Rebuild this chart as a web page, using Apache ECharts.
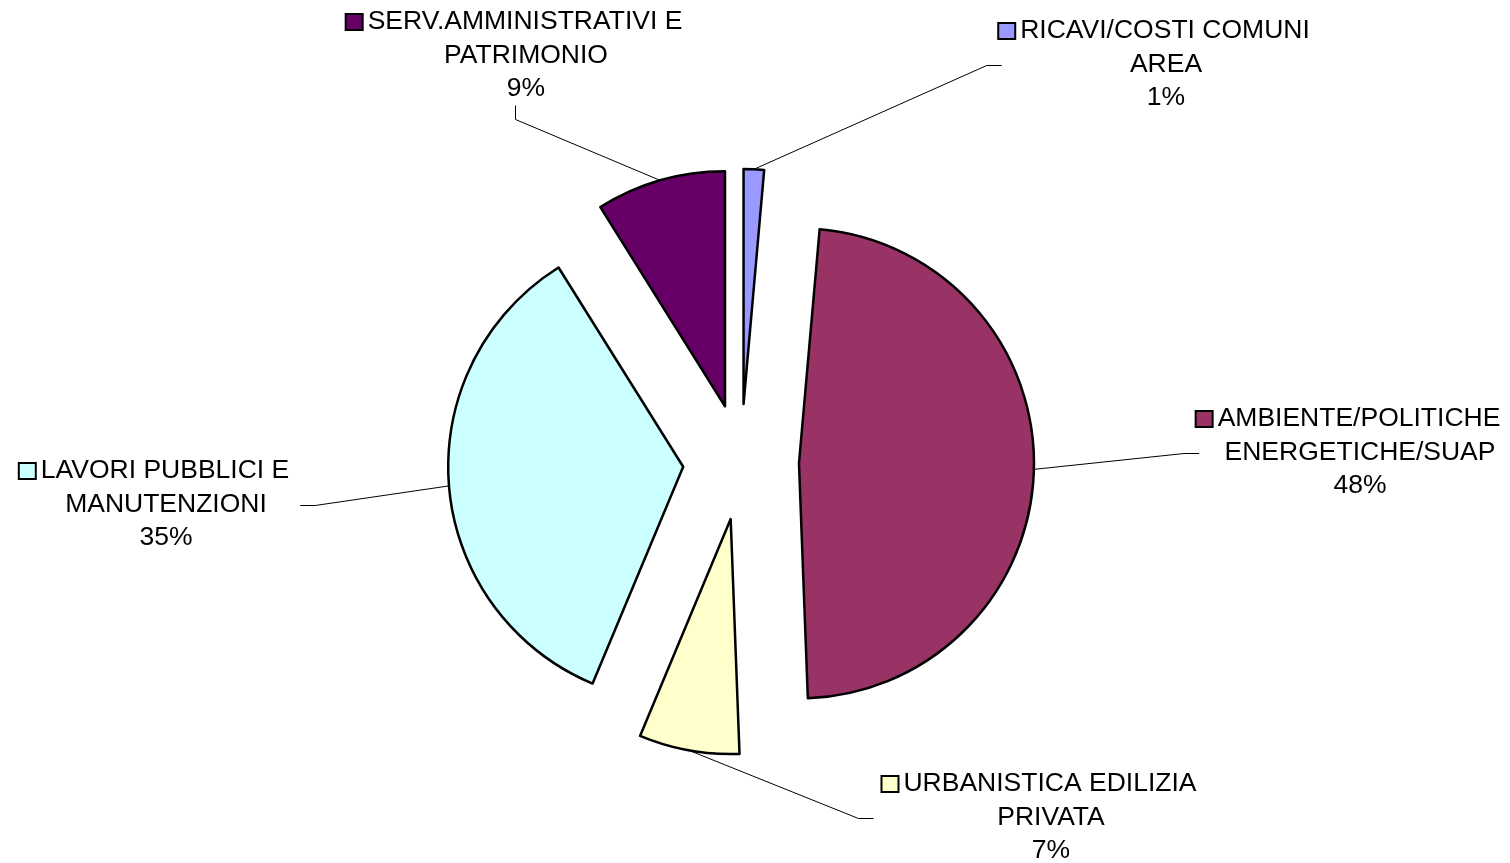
<!DOCTYPE html>
<html>
<head>
<meta charset="utf-8">
<script src="https://cdn.jsdelivr.net/npm/echarts@6/dist/echarts.min.js"></script>
<style>
html, body { margin: 0; padding: 0; background: #fff; }
#chart { width: 1510px; height: 863px; }
</style>
</head>
<body>
<div id="chart"></div>
<script>
var names = ['RICAVI/COSTI COMUNI\nAREA', 'AMBIENTE/POLITICHE\nENERGETICHE/SUAP', 'URBANISTICA EDILIZIA\nPRIVATA', 'LAVORI PUBBLICI E\nMANUTENZIONI', 'SERV.AMMINISTRATIVI E\nPATRIMONIO'];
var values = [1.4, 48.0, 6.9, 34.8, 8.9];
var colors = ['#9999FF', '#993366', '#FFFFCC', '#CCFFFF', '#660066'];

// where each label block sits and from which side the leader comes in
var labelSpots = [
	{ x: 1166, y: 64.5, side: 'left' },
	{ x: 1360, y: 452.5, side: 'left' },
	{ x: 1051, y: 817.5, side: 'left' },
	{ x: 166, y: 504.5, side: 'right' },
	{ x: 526, y: 55.5, side: 'bottom' }
];

var CENTER = [741, 462], R = 235, OFFSET = 58;
var KEY = 17, GAP = 6, PAD = KEY + GAP;

var rich = {
	t: { fontFamily: 'Liberation Sans', fontSize: 26.5, lineHeight: 33.5, color: '#000' },
	g: { width: GAP, height: 16 },
	p: { width: PAD, height: 16 }
};
colors.forEach(function (c, i) {
	rich['k' + i] = { width: KEY - 2, height: 14, backgroundColor: c, borderColor: '#000', borderWidth: 2 };
});

function labelText(p) {
	var lines = p.name.split('\n');
	var out = '{k' + p.dataIndex + '|}{g|}{t|' + lines[0] + '}{p|}';
	for (var i = 1; i < lines.length; i++) {
		out += '\n{t|' + lines[i] + '}';
	}
	return out + '\n{t|' + p.percent + '%}';
}

// leader starts on the arc middle of the pulled-out slice
function layoutLabel(p) {
	var s = labelSpots[p.dataIndex];
	var w = p.labelRect.width - 2 * PAD;
	var h = p.labelRect.height;
	var a = p.labelLinePoints[0];
	var k = (R + OFFSET) / R;
	var start = [CENTER[0] + (a[0] - CENTER[0]) * k, CENTER[1] + (a[1] - CENTER[1]) * k];
	var end, bend;
	if (s.side === 'left') {
		end = [s.x - w / 2 - PAD - 8, Math.round(s.y) + 0.5];
		bend = [end[0] - 15, end[1]];
	} else if (s.side === 'right') {
		end = [s.x + w / 2 + 10, Math.round(s.y) + 0.5];
		bend = [end[0] + 15, end[1]];
	} else {
		end = [Math.round(s.x - PAD / 2) + 0.5, s.y + h / 2 + 3];
		bend = [end[0], end[1] + 14];
	}
	return {
		x: s.x,
		y: s.y,
		align: 'center',
		verticalAlign: 'middle',
		labelLinePoints: [start, bend, end]
	};
}

var chart = echarts.init(document.getElementById('chart'));

var common = {
	type: 'pie',
	center: CENTER,
	radius: R,
	startAngle: 90,
	clockwise: true,
	percentPrecision: 0,
	avoidLabelOverlap: false,
	emphasis: { disabled: true },
	silent: true
};

chart.setOption({
	animation: false,
	backgroundColor: '#fff',
	series: [
		echarts.util.merge({
			selectedMode: 'multiple',
			selectedOffset: OFFSET,
			itemStyle: { borderColor: '#000', borderWidth: 2.5 },
			select: { itemStyle: { borderColor: '#000', borderWidth: 2.5 } },
			label: { show: false },
			labelLine: { show: false },
			data: names.map(function (n, i) {
				return { name: n, value: values[i], selected: true, itemStyle: { color: colors[i] } };
			})
		}, common),
		echarts.util.merge({
			itemStyle: { color: 'rgba(0,0,0,0)', borderWidth: 0 },
			label: { show: true, position: 'outside', formatter: labelText, rich: rich },
			labelLine: { show: true, lineStyle: { color: '#000', width: 1 } },
			labelLayout: layoutLabel,
			data: names.map(function (n, i) {
				return { name: n, value: values[i] };
			})
		}, common)
	]
});
</script>
</body>
</html>
